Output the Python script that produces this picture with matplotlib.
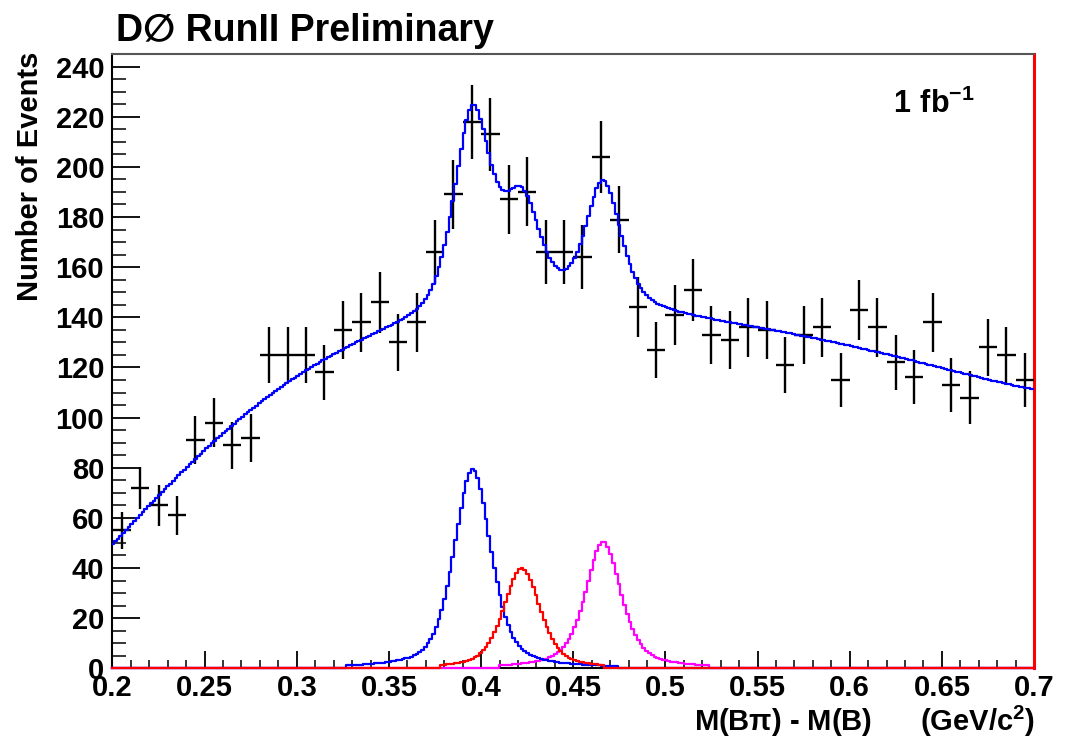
import numpy as np
import matplotlib
matplotlib.use("Agg")
import matplotlib.pyplot as plt
from matplotlib.ticker import FixedLocator, FixedFormatter, MultipleLocator

plt.rcParams['font.family'] = ['Liberation Sans', 'DejaVu Sans']
plt.rcParams['mathtext.fontset'] = 'custom'
plt.rcParams['mathtext.rm'] = 'Liberation Sans'
plt.rcParams['mathtext.bf'] = 'Liberation Sans:bold'

# ---- data (bin centres, counts) ----
bin_centers = [0.205, 0.215, 0.225, 0.235, 0.245, 0.255, 0.265, 0.275, 0.285, 0.295,
               0.305, 0.315, 0.325, 0.335, 0.345, 0.355, 0.365, 0.375, 0.385, 0.395,
               0.405, 0.415, 0.425, 0.435, 0.445, 0.455, 0.465, 0.475, 0.485, 0.495,
               0.505, 0.515, 0.525, 0.535, 0.545, 0.555, 0.565, 0.575, 0.585, 0.595,
               0.605, 0.615, 0.625, 0.635, 0.645, 0.655, 0.665, 0.675, 0.685, 0.695]
counts = [55, 72, 65, 61, 91, 98, 89, 92, 125, 125,
          125, 118, 135, 138, 146, 130, 138, 166, 189, 218,
          213, 187, 190, 166, 166, 164, 204, 179, 144, 127,
          141, 151, 133, 131, 136, 135, 121, 133, 136, 115,
          143, 136, 122, 116, 138, 113, 108, 128, 125, 115]
bin_half_width = 0.005

# ---- fit: background level ----
bg_x = [0.2, 0.225, 0.25, 0.275, 0.3, 0.325, 0.35, 0.375, 0.4, 0.425, 0.45,
        0.475, 0.5, 0.525, 0.55, 0.575, 0.6, 0.625, 0.65, 0.675, 0.7]
bg_y = [49, 69, 86, 102, 116, 126, 132.5, 138, 141.5, 142.5, 142,
        141.3, 140, 138, 135, 132, 128, 124, 119.5, 115.2, 111]

# ---- fit: signal peaks (blue, red, magenta) ----
peak_mean = [0.3954, 0.4221, 0.4663]
peak_height = [79.4, 40.0, 50.5]
peak_hwhm = [0.0119, 0.0118, 0.0115]
peak_eta = [0.5, 0.5, 0.6]
peak_lo = [0.3264, 0.378, 0.410]
peak_hi = [0.4736, 0.466, 0.524]
peak_colors = ['#0000ff', '#ff0000', '#ff00ff']

x_ticks = [0.2, 0.25, 0.3, 0.35, 0.4, 0.45, 0.5, 0.55, 0.6, 0.65, 0.7]
x_ticklabels = ['0.2', '0.25', '0.3', '0.35', '0.4', '0.45', '0.5', '0.55', '0.6', '0.65', '0.7']
y_ticks = [0, 20, 40, 60, 80, 100, 120, 140, 160, 180, 200, 220, 240]
y_ticklabels = [str(v) for v in y_ticks]


def peak_shape(x, m, h, w, eta):
    u = (x - m) / w
    return h * (eta / (1 + u ** 2) + (1 - eta) * np.exp(-np.log(2) * u ** 2))


fig = plt.figure(figsize=(10.68, 7.41), dpi=100)
ax = fig.add_axes([0.1053, 0.0981, 0.8629, 0.8290])

cnt = np.array(counts, dtype=float)
ax.errorbar(bin_centers, cnt, xerr=bin_half_width, yerr=np.sqrt(cnt), fmt='none',
            ecolor='black', elinewidth=1.7, capsize=0, zorder=3)

xf = np.linspace(0.2, 0.7, 334)
bg_fit = np.polynomial.Polynomial.fit(bg_x, bg_y, 6)
comps = [peak_shape(xf, m, h, w, e) for m, h, w, e in
         zip(peak_mean, peak_height, peak_hwhm, peak_eta)]
total = bg_fit(xf) + sum(comps)
ax.plot(xf, total, color='#0000ff', lw=1.6, drawstyle='steps-mid', zorder=5)

order = [2, 0, 1]
for z, i in enumerate(order):
    c = np.where((xf >= peak_lo[i]) & (xf <= peak_hi[i]), comps[i], 0.0)
    ax.plot(xf, c, color=peak_colors[i], lw=1.6, drawstyle='steps-mid',
            zorder=4 + z * 0.1, clip_on=False)

ax.set_xlim(0.2, 0.7)
ax.set_ylim(0, 245)

ax.xaxis.set_major_locator(FixedLocator(x_ticks))
ax.xaxis.set_major_formatter(FixedFormatter(x_ticklabels))
ax.xaxis.set_minor_locator(MultipleLocator(0.01))
ax.yaxis.set_major_locator(FixedLocator(y_ticks))
ax.yaxis.set_major_formatter(FixedFormatter(y_ticklabels))
ax.yaxis.set_minor_locator(MultipleLocator(5))

ax.tick_params(axis='x', which='major', direction='in', length=12, width=1.3,
               labelsize=21, pad=4, top=False)
ax.tick_params(axis='x', which='minor', direction='in', length=6, width=1.1, top=False)
ax.tick_params(axis='y', which='major', direction='in', length=20, width=1.3,
               labelsize=21, pad=6, right=False)
ax.tick_params(axis='y', which='minor', direction='in', length=10, width=1.1, right=False)
for lab in ax.get_xticklabels() + ax.get_yticklabels():
    lab.set_fontweight('bold')

for s in ['left', 'bottom']:
    ax.spines[s].set_color('black')
    ax.spines[s].set_linewidth(1.5)
ax.spines['top'].set_color('#555555')
ax.spines['top'].set_linewidth(1.5)
ax.spines['right'].set_color('#ff0000')
ax.spines['right'].set_linewidth(2.2)

fig.text(0.109, 1 - 41 / 741, 'D\u2205 RunII Preliminary', fontsize=27,
         fontweight='bold', ha='left', va='baseline')
fig.text(0.028, 1 - 52 / 741, 'Number of Events', rotation=90, fontsize=21,
         fontweight='bold', ha='center', va='top')
fig.text(1035 / 1068, 1 - 731 / 741, 'M(B\u03c0) - M(B)      (GeV/c$^{\\mathbf{2}}$)',
         fontsize=21, fontweight='bold', ha='right', va='baseline')
ax.text(0.6235, 221.5, r'$\mathbf{1\ fb^{-1}}$', fontsize=22, ha='left', va='baseline')

fig.savefig('out.png', dpi=100)
